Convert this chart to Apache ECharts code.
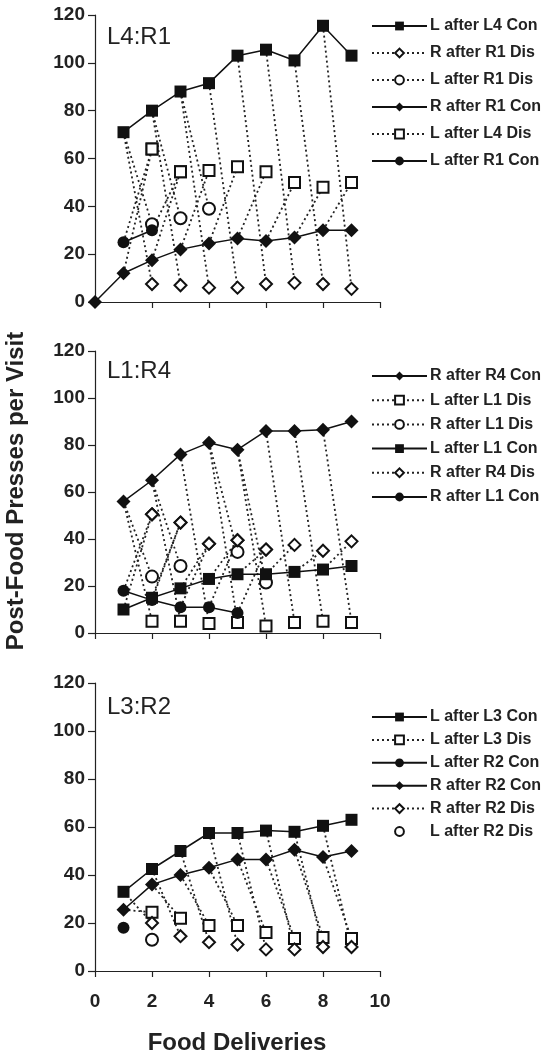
<!DOCTYPE html>
<html>
<head>
<meta charset="utf-8">
<script src="https://cdn.jsdelivr.net/npm/echarts@6/dist/echarts.min.js"></script>
<style>
  html, body { margin: 0; padding: 0; background: #fff; }
  #chart { width: 546px; height: 1055px; }
</style>
</head>
<body>
<div id="chart"></div>
<script>
// panel 1, L4:R1  (first x of each array noted at the end of the line)
const lAfterL4Con = [71, 80, 88, 91.5, 103, 105.5, 101, 115.5, 103] // x 1..9
const rAfterR1Dis = [7.5, 7, 6, 6, 7.5, 8, 7.5, 5.5] // x 2..9
const lAfterR1Dis = [32.5, 35, 39] // x 2..4
const rAfterR1Con = [0, 12, 17.5, 22, 24.5, 26.5, 25.5, 27, 30, 30] // x 0..9
const lAfterL4Dis = [64, 54.5, 55, 56.5, 54.5, 50, 48, 50] // x 2..9
const lAfterR1Con = [25, 30] // x 1..2

// panel 2, L1:R4
const rAfterR4Con = [56, 65, 76, 81, 78, 86, 86, 86.5, 90] // x 1..9
const lAfterL1Dis = [5, 5, 4, 4.5, 3, 4.5, 5, 4.5] // x 2..9
const rAfterL1Dis = [24, 28.5, null, 34.5, 21.5] // x 2..6
const lAfterL1Con = [10, 15, 19, 23, 25, 25, 26, 27, 28.5] // x 1..9
const rAfterR4Dis = [50.5, 47, 38, 39.5, 35.5, 37.5, 35, 39] // x 2..9
const rAfterL1Con = [18, 14, 11, 11, 8.5] // x 1..5

// panel 3, L3:R2
const lAfterL3Con = [33, 42.5, 50, 57.5, 57.5, 58.5, 58, 60.5, 63] // x 1..9
const lAfterL3Dis = [24.5, 22, 19, 19, 16, 13.5, 14, 13.5] // x 2..9
const lAfterR2Con = [18] // x 1
const rAfterR2Con = [25.5, 36, 40, 43, 46.5, 46.5, 50.5, 47.5, 50] // x 1..9
const rAfterR2Dis = [20, 14.5, 12, 11, 9, 9, 10, 10] // x 2..9
const lAfterR2Dis = [13] // x 2

const panelTitles = ['L4:R1', 'L1:R4', 'L3:R2']
const xTicks = [0, 2, 4, 6, 8, 10]

function pts (x0, vals) {
  const out = []
  vals.forEach((v, i) => { if (v !== null) out.push([x0 + i, v]) })
  return out
}

const P = {
  l4con: pts(1, lAfterL4Con), r1dis: pts(2, rAfterR1Dis), lr1dis: pts(2, lAfterR1Dis),
  r1con: pts(0, rAfterR1Con), l4dis: pts(2, lAfterL4Dis), lr1con: pts(1, lAfterR1Con),
  r4con: pts(1, rAfterR4Con), l1dis: pts(2, lAfterL1Dis), rl1dis: pts(2, rAfterL1Dis),
  l1con: pts(1, lAfterL1Con), r4dis: pts(2, rAfterR4Dis), rl1con: pts(1, rAfterL1Con),
  l3con: pts(1, lAfterL3Con), l3dis: pts(2, lAfterL3Dis), lr2con: pts(1, lAfterR2Con),
  r2con: pts(1, rAfterR2Con), r2dis: pts(2, rAfterR2Dis), lr2dis: pts(2, lAfterR2Dis)
}

const sizes = { rect: 12, diamond: 14, circle: 12, emptyRect: 11, emptyDiamond: 12, emptyCircle: 12 }

// solid "continuing" series
function conSeries (name, grid, symbol, data) {
  return {
    name: name,
    type: 'line',
    xAxisIndex: grid,
    yAxisIndex: grid,
    data: data,
    symbol: symbol,
    symbolSize: sizes[symbol],
    z: 4,
    itemStyle: { color: '#111' },
    lineStyle: { color: '#111', width: 1.5 },
    emphasis: { disabled: true }
  }
}

// dotted "discontinued" series, each point joined back to the con points one delivery before
function disSeries (name, grid, symbol, data, sources, noLine) {
  const out = []
  data.forEach(p => {
    let joined = false
    sources.forEach(src => {
      const prev = src.find(q => q[0] === p[0] - 1)
      if (prev) {
        out.push({ value: prev, symbol: 'none' }, { value: p }, '-')
        joined = true
      }
    })
    if (!joined) out.push({ value: p }, '-')
  })
  return {
    name: name,
    type: 'line',
    xAxisIndex: grid,
    yAxisIndex: grid,
    data: out,
    connectNulls: false,
    symbol: symbol,
    symbolSize: sizes[symbol],
    z: 2,
    itemStyle: { color: '#111', borderWidth: 1.6 },
    lineStyle: noLine ? { color: '#111', width: 0, opacity: 0 } : { color: '#222', width: 1.8, type: [2, 3] },
    emphasis: { disabled: true }
  }
}

const series = [
  disSeries('R after R1 Dis', 0, 'emptyDiamond', P.r1dis, [P.l4con]),
  disSeries('L after R1 Dis', 0, 'emptyCircle', P.lr1dis, [P.l4con]),
  disSeries('L after L4 Dis', 0, 'emptyRect', P.l4dis, [P.r1con, P.lr1con]),
  conSeries('L after L4 Con', 0, 'rect', P.l4con),
  conSeries('R after R1 Con', 0, 'diamond', P.r1con),
  conSeries('L after R1 Con', 0, 'circle', P.lr1con),

  disSeries('L after L1 Dis', 1, 'emptyRect', P.l1dis, [P.r4con]),
  disSeries('R after L1 Dis', 1, 'emptyCircle', P.rl1dis, [P.r4con]),
  disSeries('R after R4 Dis', 1, 'emptyDiamond', P.r4dis, [P.l1con, P.rl1con]),
  conSeries('R after R4 Con', 1, 'diamond', P.r4con),
  conSeries('L after L1 Con', 1, 'rect', P.l1con),
  conSeries('R after L1 Con', 1, 'circle', P.rl1con),

  disSeries('L after L3 Dis', 2, 'emptyRect', P.l3dis, [P.r2con]),
  disSeries('R after R2 Dis', 2, 'emptyDiamond', P.r2dis, [P.l3con]),
  disSeries('L after R2 Dis', 2, 'emptyCircle', P.lr2dis, [], true),
  conSeries('L after L3 Con', 2, 'rect', P.l3con),
  conSeries('L after R2 Con', 2, 'circle', P.lr2con),
  conSeries('R after R2 Con', 2, 'diamond', P.r2con)
]

const grids = [
  { left: 95, width: 285, top: 15, height: 287 },
  { left: 95, width: 285, top: 351, height: 282 },
  { left: 95, width: 285, top: 683, height: 288 }
]

const tickFont = { color: '#222', fontFamily: 'Liberation Sans, Arial, sans-serif', fontWeight: 'bold', fontSize: 19 }

const xAxes = grids.map((g, i) => ({
  type: 'value',
  gridIndex: i,
  min: xTicks[0],
  max: xTicks[xTicks.length - 1],
  interval: 2,
  axisLine: { show: true, onZero: false, lineStyle: { color: '#222', width: 1.2 } },
  axisTick: { show: true, inside: false, length: 6, lineStyle: { color: '#222', width: 1.2 } },
  axisLabel: Object.assign({ show: i === 2, margin: 21 }, tickFont),
  splitLine: { show: false }
}))

const yAxes = grids.map((g, i) => ({
  type: 'value',
  gridIndex: i,
  min: 0,
  max: 120,
  interval: 20,
  axisLine: { show: true, onZero: false, lineStyle: { color: '#222', width: 1.2 } },
  axisTick: { show: true, inside: false, length: 7, lineStyle: { color: '#222', width: 1.2 } },
  axisLabel: Object.assign({ margin: 10 }, tickFont),
  splitLine: { show: false }
}))

const legendNames = [
  ['L after L4 Con', 'R after R1 Dis', 'L after R1 Dis', 'R after R1 Con', 'L after L4 Dis', 'L after R1 Con'],
  ['R after R4 Con', 'L after L1 Dis', 'R after L1 Dis', 'L after L1 Con', 'R after R4 Dis', 'R after L1 Con'],
  ['L after L3 Con', 'L after L3 Dis', 'L after R2 Con', 'R after R2 Con', 'R after R2 Dis', 'L after R2 Dis']
]
const legendTops = [13, 363, 704]
const legendGaps = [11, 8.2, 6.9]

const legends = legendNames.map((names, i) => ({
  data: names,
  orient: 'vertical',
  left: 366,
  top: legendTops[i],
  itemWidth: 55,
  itemHeight: 11,
  itemGap: legendGaps[i],
  selectedMode: false,
  textStyle: { color: '#222', fontFamily: 'Liberation Sans, Arial, sans-serif', fontWeight: 'bold', fontSize: 16, padding: [0, 0, 0, -2] }
}))

const chart = echarts.init(document.getElementById('chart'))
chart.setOption({
  animation: false,
  backgroundColor: '#fff',
  grid: grids,
  xAxis: xAxes,
  yAxis: yAxes,
  legend: legends,
  series: series,
  graphic: [
    { type: 'text', x: 107, y: 37.5, style: { text: panelTitles[0], font: '24px Liberation Sans, Arial, sans-serif', fill: '#222', verticalAlign: 'middle' } },
    { type: 'text', x: 107, y: 371.5, style: { text: panelTitles[1], font: '24px Liberation Sans, Arial, sans-serif', fill: '#222', verticalAlign: 'middle' } },
    { type: 'text', x: 107, y: 707.5, style: { text: panelTitles[2], font: '24px Liberation Sans, Arial, sans-serif', fill: '#222', verticalAlign: 'middle' } },
    { type: 'text', x: 16, y: 491, rotation: Math.PI / 2, style: { text: 'Post-Food Presses per Visit', font: 'bold 24px Liberation Sans, Arial, sans-serif', fill: '#222', align: 'center', verticalAlign: 'middle' } },
    { type: 'text', x: 237, y: 1043, style: { text: 'Food Deliveries', font: 'bold 24px Liberation Sans, Arial, sans-serif', fill: '#222', align: 'center', verticalAlign: 'middle' } }
  ]
})
</script>
</body>
</html>
